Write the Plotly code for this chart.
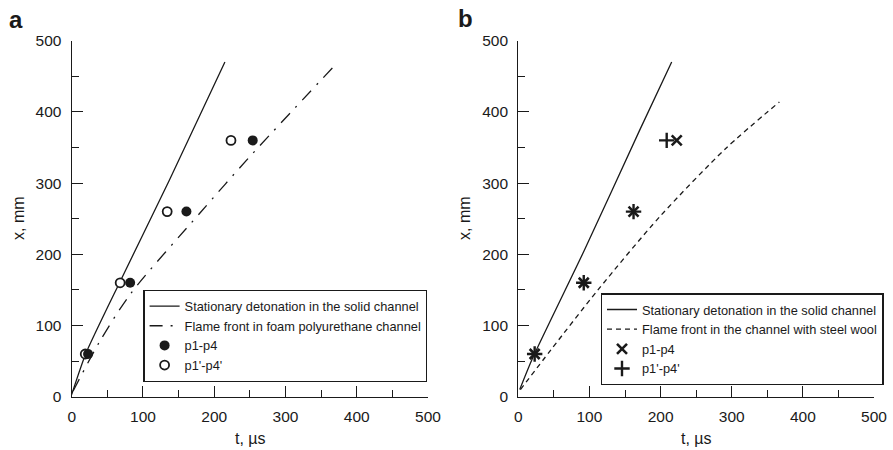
import plotly.graph_objects as go

# ---------------- data ----------------
# Panel a
a_det_t = [0, 20, 69, 137, 215]
a_det_x = [3, 61, 164, 304, 470]
a_flame_t = [2, 39, 83, 180, 248, 367]
a_flame_x = [8, 77, 145, 258, 335, 463]
a_p_t = [23, 82, 161, 254]
a_p_x = [60, 160, 260, 360]
a_pp_t = [19, 68, 134, 223.5]
a_pp_x = [60, 160, 260, 360]

# Panel b
b_det_t = [2, 20, 93, 170, 215.6]
b_det_x = [10, 54, 206, 373, 470]
b_flame_t = [3, 46, 112, 199, 292, 367]
b_flame_x = [10, 66, 150, 253, 349, 414]
b_p_t = [23, 92, 162, 222.7]
b_p_x = [60, 160, 260, 360]
b_pp_t = [23, 92, 162, 208.6]
b_pp_x = [60, 160, 260, 360]

x_ticks = [0, 100, 200, 300, 400, 500]
y_ticks = [0, 100, 200, 300, 400, 500]

FONT = "Liberation Sans, Arial, sans-serif"
INK = "#1a1a1a"

fig = go.Figure()

# ---- panel a ----
fig.add_trace(go.Scatter(x=a_det_t, y=a_det_x, mode="lines",
                         line=dict(color=INK, width=1.3, shape="spline", smoothing=0.6),
                         name="Stationary detonation in the solid channel",
                         xaxis="x", yaxis="y", legend="legend", legendrank=1))
fig.add_trace(go.Scatter(x=a_flame_t, y=a_flame_x, mode="lines",
                         line=dict(color=INK, width=1.3, dash="13px,8px,2px,8px",
                                   shape="spline", smoothing=0.8),
                         name="Flame front in foam polyurethane channel",
                         xaxis="x", yaxis="y", legend="legend", legendrank=2))
fig.add_trace(go.Scatter(x=a_pp_t, y=a_pp_x, mode="markers",
                         marker=dict(symbol="circle", size=9, color="white",
                                     line=dict(color=INK, width=1.8)),
                         name="p1'-p4'",
                         xaxis="x", yaxis="y", legend="legend", legendrank=4))
fig.add_trace(go.Scatter(x=a_p_t, y=a_p_x, mode="markers",
                         marker=dict(symbol="circle", size=10, color=INK,
                                     line=dict(color=INK, width=0)),
                         name="p1-p4",
                         xaxis="x", yaxis="y", legend="legend", legendrank=3))

# ---- panel b ----
fig.add_trace(go.Scatter(x=b_det_t, y=b_det_x, mode="lines",
                         line=dict(color=INK, width=1.3, shape="spline", smoothing=0.6),
                         name="Stationary detonation in the solid channel",
                         xaxis="x2", yaxis="y2", legend="legend2", legendrank=1))
fig.add_trace(go.Scatter(x=b_flame_t, y=b_flame_x, mode="lines",
                         line=dict(color=INK, width=1.3, dash="5px,4px",
                                   shape="spline", smoothing=0.8),
                         name="Flame front in the channel with steel wool",
                         xaxis="x2", yaxis="y2", legend="legend2", legendrank=2))
fig.add_trace(go.Scatter(x=b_p_t, y=b_p_x, mode="markers",
                         marker=dict(symbol="x-thin-open", size=10, color=INK,
                                     line=dict(color=INK, width=2.6)),
                         name="p1-p4",
                         xaxis="x2", yaxis="y2", legend="legend2", legendrank=3))
fig.add_trace(go.Scatter(x=b_pp_t, y=b_pp_x, mode="markers",
                         marker=dict(symbol="cross-thin-open", size=11, color=INK,
                                     line=dict(color=INK, width=2.4)),
                         name="p1'-p4'",
                         xaxis="x2", yaxis="y2", legend="legend2", legendrank=4))

W, H = 893, 450
y_dom = [(H - 396.7) / H, (H - 40.7) / H]

def axis_common():
    return dict(range=[0, 500], showgrid=False, zeroline=False, showline=True,
                linecolor=INK, linewidth=1.3, ticks="inside", ticklen=11,
                tickwidth=1.3, tickcolor=INK, ticklabelstandoff=6,
                tickfont=dict(family=FONT, size=15.5, color=INK),
                minor=dict(dtick=50, tick0=0, ticks="inside", ticklen=7,
                           tickwidth=1.3, tickcolor=INK, showgrid=False),
                fixedrange=True, automargin=False)

def xax(dom, anchor):
    d = axis_common()
    d.update(domain=dom, anchor=anchor, tickvals=x_ticks)
    return d

def yax(anchor):
    d = axis_common()
    d.update(domain=y_dom, anchor=anchor, tickvals=y_ticks)
    return d

leg_common = dict(bgcolor="white", bordercolor=INK, borderwidth=1.3,
                  font=dict(family=FONT, size=12.8, color=INK),
                  xanchor="left", yanchor="middle", tracegroupgap=0,
                  itemwidth=30, traceorder="normal")

fig.update_layout(
    width=W, height=H,
    margin=dict(l=0, r=0, t=0, b=0, autoexpand=False),
    paper_bgcolor="white", plot_bgcolor="white",
    font=dict(family=FONT, color=INK),
    showlegend=True,
    xaxis=xax([71.7 / W, 428 / W], "y"),
    yaxis=yax("x"),
    xaxis2=xax([518.3 / W, 874 / W], "y2"),
    yaxis2=yax("x2"),
    legend=dict(x=143.3 / W, y=(H - 336) / H, **leg_common),
    legend2=dict(x=600.7 / W, y=(H - 339.4) / H, **leg_common),
    annotations=[
        dict(text="<b>a</b>", x=7 / W, y=(H - 20) / H, xref="paper", yref="paper",
             xanchor="left", yanchor="middle", showarrow=False,
             font=dict(family=FONT, size=24, color=INK)),
        dict(text="<b>b</b>", x=456 / W, y=(H - 18) / H, xref="paper", yref="paper",
             xanchor="left", yanchor="middle", showarrow=False,
             font=dict(family=FONT, size=24, color=INK)),
        dict(text="t, µs", x=250 / W, y=(H - 438) / H, xref="paper", yref="paper",
             xanchor="center", yanchor="middle", showarrow=False,
             font=dict(family=FONT, size=16, color=INK)),
        dict(text="t, µs", x=696 / W, y=(H - 438) / H, xref="paper", yref="paper",
             xanchor="center", yanchor="middle", showarrow=False,
             font=dict(family=FONT, size=16, color=INK)),
        dict(text="x, mm", x=18 / W, y=(H - 218) / H, xref="paper", yref="paper",
             xanchor="center", yanchor="middle", showarrow=False, textangle=-90,
             font=dict(family=FONT, size=16, color=INK)),
        dict(text="x, mm", x=464 / W, y=(H - 218) / H, xref="paper", yref="paper",
             xanchor="center", yanchor="middle", showarrow=False, textangle=-90,
             font=dict(family=FONT, size=16, color=INK)),
    ],
)

fig.write_html(
    "out.html",
    config={"displayModeBar": False},
    post_script="document.body.style.margin='0';document.body.style.overflow='hidden';",
)
